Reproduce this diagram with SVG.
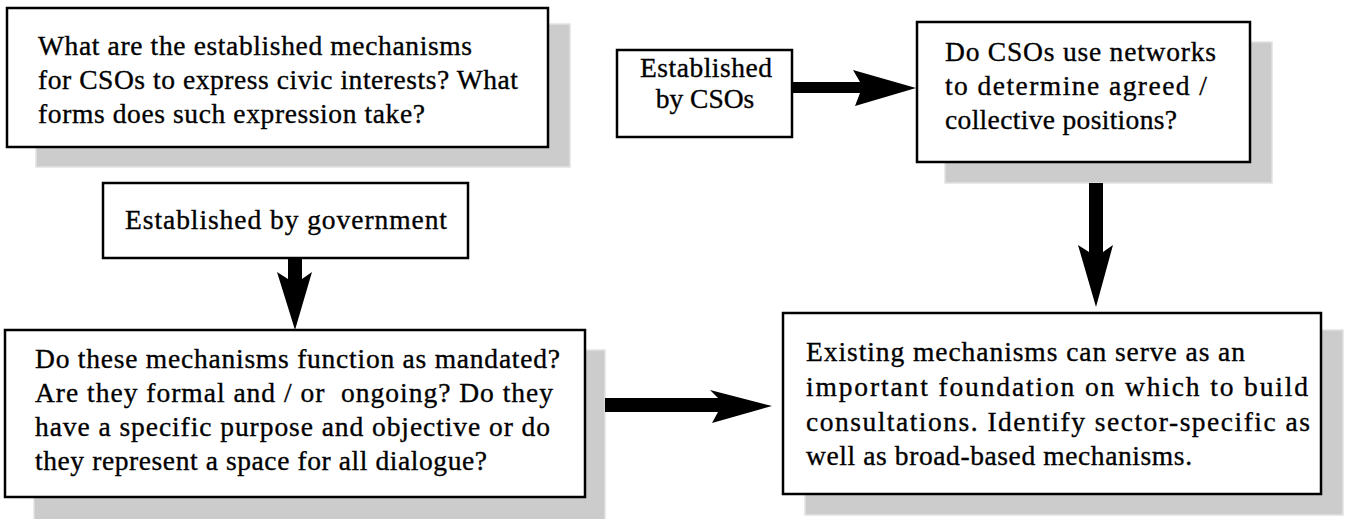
<svg xmlns="http://www.w3.org/2000/svg" width="1347" height="519" viewBox="0 0 1347 519">
  <defs>
    <style>
      .shadow { fill: #cccccc; stroke: #e2e2e2; stroke-width: 1.5; }
      .box { fill: #ffffff; stroke: #000000; stroke-width: 2.5; }
      .label { font-family: "Liberation Serif", "Times New Roman", serif; font-size: 27.5px; fill: #000000; stroke: #000000; stroke-width: 0.35; }
      .mid { text-anchor: middle; }
      .arrow { fill: #000000; stroke: none; }
    </style>
  </defs>
  <rect width="1347" height="519" fill="#ffffff"/>

  <!-- Question: established mechanisms -->
  <g id="node-mechanisms">
    <rect class="shadow" x="36" y="24" width="534" height="143"/>
    <rect class="box" x="7" y="8" width="541" height="139"/>
    <text class="label" x="38" y="55" textLength="434" lengthAdjust="spacing">What are the established mechanisms</text>
    <text class="label" x="38" y="89" textLength="480" lengthAdjust="spacing">for CSOs to express civic interests? What</text>
    <text class="label" x="38" y="123" textLength="387" lengthAdjust="spacing">forms does such expression take?</text>
  </g>

  <!-- Established by CSOs -->
  <g id="node-by-csos">
    <rect class="box" x="617" y="50" width="175" height="87"/>
    <text class="label mid" x="706" y="77" textLength="132" lengthAdjust="spacing">Established</text>
    <text class="label mid" x="705" y="108">by CSOs</text>
  </g>

  <!-- Question: networks -->
  <g id="node-networks">
    <rect class="shadow" x="945" y="42" width="327" height="141"/>
    <rect class="box" x="917" y="22" width="333" height="140"/>
    <text class="label" x="945" y="61" textLength="271" lengthAdjust="spacing">Do CSOs use networks</text>
    <text class="label" x="945" y="95" textLength="262" lengthAdjust="spacing">to determine agreed /</text>
    <text class="label" x="945" y="129" textLength="232" lengthAdjust="spacing">collective positions?</text>
  </g>

  <!-- Established by government -->
  <g id="node-by-government">
    <rect class="box" x="103" y="183" width="365" height="75"/>
    <text class="label mid" x="286" y="229" textLength="322" lengthAdjust="spacing">Established by government</text>
  </g>

  <!-- Question: function as mandated -->
  <g id="node-function">
    <rect class="shadow" x="34" y="350" width="571" height="175"/>
    <rect class="box" x="5" y="330" width="580" height="167"/>
    <text class="label" x="35" y="368" textLength="525" lengthAdjust="spacing">Do these mechanisms function as mandated?</text>
    <text class="label" x="35" y="402" textLength="518" lengthAdjust="spacing" xml:space="preserve">Are they formal and / or  ongoing? Do they</text>
    <text class="label" x="35" y="436" textLength="515" lengthAdjust="spacing">have a specific purpose and objective or do</text>
    <text class="label" x="35" y="470" textLength="452" lengthAdjust="spacing">they represent a space for all dialogue?</text>
  </g>

  <!-- Conclusion: existing mechanisms -->
  <g id="node-existing">
    <rect class="shadow" x="805" y="330" width="538" height="185"/>
    <rect class="box" x="783" y="313" width="538" height="181"/>
    <text class="label" x="806" y="361" textLength="439" lengthAdjust="spacing">Existing mechanisms can serve as an</text>
    <text class="label" x="806" y="396" textLength="502" lengthAdjust="spacing">important foundation on which to build</text>
    <text class="label" x="806" y="431" textLength="504" lengthAdjust="spacing">consultations. Identify sector-specific as</text>
    <text class="label" x="806" y="465" textLength="386" lengthAdjust="spacing">well as broad-based mechanisms.</text>
  </g>

  <!-- Block arrows -->
  <g id="connectors">
    <polygon class="arrow" points="792,82 860,82 853,70 916,88 855,106 860,93 792,93"/>
    <polygon class="arrow" points="1089,183 1103,183 1103,252 1113,245 1096,307 1078,245 1089,252"/>
    <polygon class="arrow" points="288,258 302,258 302,279 312,272 295,330 277,272 288,279"/>
    <polygon class="arrow" points="605,398 718,398 710,390 772,406 712,423 718,412 605,412"/>
  </g>
</svg>
